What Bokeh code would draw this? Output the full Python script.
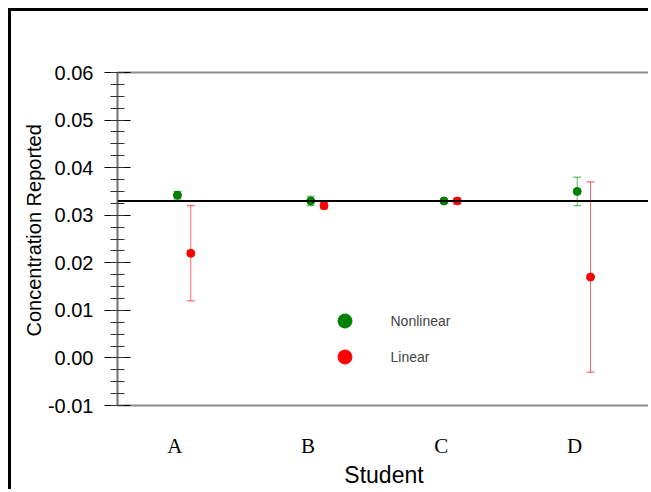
import numpy as np
from bokeh.plotting import figure
from bokeh.models import (ColumnDataSource, Whisker, TeeHead, Span, FixedTicker,
                          Legend, LegendItem, Range1d, Title)
from bokeh.transform import dodge
from bokeh.embed import file_html
from bokeh.resources import INLINE

# ---- data ----
students = ["A", "B", "C", "D"]
group_pos = [1, 2, 3, 4]
nonlinear = [0.0342, 0.0330, 0.0330, 0.0350]
nonlinear_err = [0.0008, 0.0010, 0.0002, 0.0030]
linear = [0.0220, 0.0320, 0.0330, 0.0170]
linear_err = [0.0100, 0.0007, 0.0006, 0.0200]
reference_value = 0.033
y_ticks = [-0.01, 0.00, 0.01, 0.02, 0.03, 0.04, 0.05, 0.06]
y_tick_labels = ["-0.01", "0.00", "0.01", "0.02", "0.03", "0.04", "0.05", "0.06"]
y_title = "Concentration Reported"
x_title = "Student"

GREEN = "#008000"
RED = "#ff0000"

src_nl = ColumnDataSource(dict(
    x=group_pos, y=nonlinear,
    lo=[v - e for v, e in zip(nonlinear, nonlinear_err)],
    hi=[v + e for v, e in zip(nonlinear, nonlinear_err)]))
src_li = ColumnDataSource(dict(
    x=group_pos, y=linear,
    lo=[v - e for v, e in zip(linear, linear_err)],
    hi=[v + e for v, e in zip(linear, linear_err)]))

p = figure(width=640, height=481, output_backend="svg", toolbar_location=None,
           x_range=Range1d(0.5, 4.5), y_range=Range1d(-0.01, 0.06),
           min_border_left=106, min_border_top=61, min_border_right=1,
           min_border_bottom=87)
p.styles = {"border-top": "3px solid black", "border-left": "3px solid black",
            "margin-left": "8px", "margin-top": "8px"}
p.background_fill_color = "white"
p.border_fill_color = "white"
p.outline_line_color = "#8c8c8c"
p.outline_line_width = 2
p.xgrid.visible = False
p.ygrid.visible = False

# reference line
p.add_layout(Span(location=reference_value, dimension="width",
                  line_color="black", line_width=2))

off = 0.05
for src, col, sign in ((src_nl, GREEN, -1), (src_li, RED, 1)):
    w = Whisker(source=src, base=dodge("x", sign * off), upper="hi", lower="lo",
                line_color=col, line_alpha=0.6, line_width=1,
                upper_head=TeeHead(size=8, line_color=col, line_alpha=0.7),
                lower_head=TeeHead(size=8, line_color=col, line_alpha=0.7))
    p.add_layout(w)

r_nl = p.scatter(x=dodge("x", -off), y="y", source=src_nl, size=8,
                 fill_color=GREEN, line_color=GREEN)
r_li = p.scatter(x=dodge("x", off), y="y", source=src_li, size=8,
                 fill_color=RED, line_color=RED)

# y axis
yax = p.yaxis[0]
yax.ticker = FixedTicker(ticks=y_ticks,
                         minor_ticks=list(np.round(np.arange(-0.01, 0.0601, 0.0025), 4)))
yax.major_label_overrides = {t: l for t, l in zip(y_ticks, y_tick_labels)}
yax.major_tick_in = 13
yax.major_tick_out = 13
yax.minor_tick_in = 7
yax.minor_tick_out = 7
yax.major_tick_line_color = "black"
yax.minor_tick_line_color = "#333333"
yax.axis_line_color = "#7a7a7a"
yax.axis_line_width = 1.5
yax.major_label_text_font = "Liberation Sans"
yax.major_label_text_font_size = "20px"
yax.major_label_text_color = "black"
yax.major_label_standoff = 11

# y title placed as a left-side title (shifted up like the reference)
p.add_layout(Title(text=y_title, align="left", offset=69, standoff=0,
                   text_font="Liberation Sans", text_font_size="20px",
                   text_font_style="normal", text_color="black"), "left")

# x axis
xax = p.xaxis[0]
xax.ticker = FixedTicker(ticks=[g - 0.07 for g in group_pos])
xax.major_label_overrides = {g - 0.07: s for g, s in zip(group_pos, students)}
xax.major_tick_line_color = None
xax.minor_tick_line_color = None
xax.axis_line_color = None
xax.major_label_text_font = "Liberation Serif"
xax.major_label_text_font_size = "21px"
xax.major_label_text_color = "black"
xax.major_label_standoff = 22
xax.axis_label = x_title
xax.axis_label_text_font = "Liberation Sans"
xax.axis_label_text_font_size = "23px"
xax.axis_label_text_font_style = "normal"
xax.axis_label_text_color = "black"
xax.axis_label_standoff = 1

legend = Legend(items=[LegendItem(label="Nonlinear", renderers=[r_nl]),
                       LegendItem(label="Linear", renderers=[r_li])],
                location=(209.5, 31), glyph_width=35, glyph_height=35,
                label_height=35, label_standoff=29, spacing=1, padding=0, margin=0,
                label_text_font="Liberation Sans", label_text_font_size="14px",
                label_text_baseline="middle",
                background_fill_alpha=0, border_line_alpha=0)
p.add_layout(legend)

open("out.html", "w").write(file_html(p, INLINE))
